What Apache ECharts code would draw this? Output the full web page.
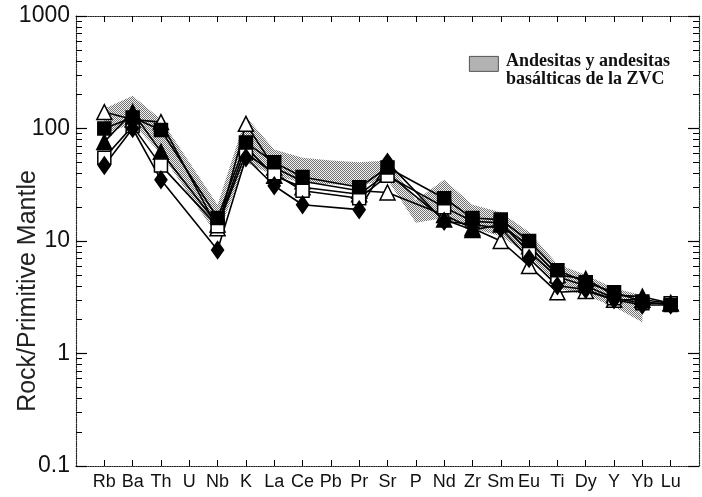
<!DOCTYPE html>
<html>
<head>
<meta charset="utf-8">
<script src="https://cdn.jsdelivr.net/npm/echarts@6/dist/echarts.min.js"></script>
<style>
  html, body { margin: 0; padding: 0; background: #fff; }
  #chart { width: 702px; height: 497px; }
</style>
</head>
<body>
<div id="chart"></div>
<script>
// elementos normalizados al manto primitivo
const elements = ['Rb', 'Ba', 'Th', 'U', 'Nb', 'K', 'La', 'Ce', 'Pb', 'Pr', 'Sr', 'P', 'Nd', 'Zr', 'Sm', 'Eu', 'Ti', 'Dy', 'Y', 'Yb', 'Lu']

// muestras (null = sin dato, la línea salta el elemento)
const openTri  = [140, 120, 114, null, 13,   110, 45, 34, null, 28, 27, null, 17,   13,   10,   6,  3.5, 3.6, 3.0, 3.0, 2.8]
const fullTri  = [76,  140, 62,  null, 14,   68,  38, 30, null, 26, 40, null, 15.5, 12.5, 14,   9,  5.0, 4.6, 3.3, 3.2, 2.8]
const fullSq   = [100, 125, 97,  null, 16,   75,  50, 37, null, 30, 45, null, 24,   16,   15.5, 10, 5.5, 4.3, 3.5, 2.9, 2.7]
const openSq   = [55,  105, 47,  null, 13.5, 60,  40, 28, null, 24, 38, null, 20,   15,   14.5, 8,  4.8, 4.0, 3.1, 2.8, 2.8]
const diamonds = [47,  100, 35,  null, 8.3,  55,  31, 21, null, 19, 50, null, 15,   14,   13,   7,  4.0, 3.7, 3.0, 2.7, 2.7]

// campo de andesitas y andesitas basálticas de la ZVC
const bandUpper = [150, 195, 120, null, 21, 127, 65, 55, 52, 50, 52, 23,   35, 21, 18, 12,  6.2, 5.0, 3.8, 3.3, null]
const bandLower = [90,  110, 60,  null, 11, 50,  38, 33, 32, 31, 35, 14.5, 16, 13, 11, 7.5, 3.8, 3.3, 2.6, 1.9, null]

// marcas menores (2..9 de cada década), en escala log10
const minorLog = []
for (let e = -1; e < 3; e++) {
  for (let k = 2; k <= 9; k++) minorLog.push(e + Math.log10(k))
}
const catIdx = elements.map((e, i) => i)

// trama gris punteada
const pat = document.createElement('canvas')
pat.width = 2
pat.height = 2
const pctx = pat.getContext('2d')
pctx.fillStyle = '#f2f2f2'
pctx.fillRect(0, 0, 2, 2)
pctx.fillStyle = '#727272'
pctx.fillRect(0, 0, 1, 1)
pctx.fillRect(1, 1, 1, 1)
const patternFill = { type: 'pattern', image: pat, repeat: 'repeat' }

const chart = echarts.init(document.getElementById('chart'))

const frameLine = { show: true, onZero: false, lineStyle: { color: '#222', width: 1.2, type: 'dotted' } }
const fontSans = 'Liberation Sans'

const xBase = {
  type: 'value',
  min: -1,
  max: 21,
  splitLine: { show: false },
  axisLine: frameLine
}
const yBase = {
  type: 'log',
  logBase: 10,
  min: 0.1,
  max: 1000,
  splitLine: { show: false },
  axisLine: frameLine
}
const yMinor = (pos) => ({
  type: 'value',
  position: pos,
  min: -1,
  max: 3,
  splitLine: { show: false },
  axisLine: { show: false, onZero: false },
  axisTick: { show: true, inside: true, length: 6, customValues: minorLog, lineStyle: { color: '#000' } },
  axisLabel: { show: false }
})

const mkLine = (name, data, symbol, size, filled) => ({
  name,
  type: 'line',
  data: data.map((v, i) => [i, v]),
  connectNulls: true,
  symbol,
  symbolSize: size,
  lineStyle: { color: '#000', width: 1.6 },
  itemStyle: { color: filled ? '#000' : '#fff', borderColor: '#000', borderWidth: 1.5 },
  emphasis: { disabled: true },
  z: 3
})

const option = {
  animation: false,
  grid: { left: 76, right: 3, top: 16, bottom: 31 },
  xAxis: [
    Object.assign({}, xBase, {
      position: 'bottom',
      axisTick: { show: true, inside: true, length: 6, customValues: catIdx, lineStyle: { color: '#000' } },
      axisLabel: {
        customValues: catIdx,
        formatter: (v) => elements[Math.round(v)] || '',
        color: '#111',
        fontFamily: fontSans,
        fontSize: 18,
        margin: 7
      }
    }),
    Object.assign({}, xBase, {
      position: 'top',
      axisTick: { show: true, inside: true, length: 6, customValues: catIdx, lineStyle: { color: '#000' } },
      axisLabel: { show: false }
    })
  ],
  yAxis: [
    Object.assign({}, yBase, {
      position: 'left',
      axisTick: { show: true, inside: true, length: 11, lineStyle: { color: '#000', width: 1.2 } },
      axisLabel: {
        formatter: (v) => String(v),
        color: '#111',
        fontFamily: fontSans,
        fontSize: 23,
        margin: 6
      }
    }),
    Object.assign({}, yBase, {
      position: 'right',
      axisTick: { show: true, inside: true, length: 11, lineStyle: { color: '#000', width: 1.2 } },
      axisLabel: { show: false }
    }),
    yMinor('left'),
    yMinor('right')
  ],
  series: [
    {
      name: 'ZVC',
      type: 'custom',
      data: bandUpper.map((v, i) => [i, v]),
      z: 1,
      silent: true,
      renderItem: (params, api) => {
        if (params.dataIndex !== 0) return
        const top = []
        const bottom = []
        bandUpper.forEach((v, i) => {
          if (v == null) return
          top.push(api.coord([i, v]))
          bottom.unshift(api.coord([i, bandLower[i]]))
        })
        return {
          type: 'polygon',
          shape: { points: top.concat(bottom) },
          style: { fill: patternFill, stroke: null }
        }
      }
    },
    mkLine('openTri', openTri, 'triangle', 15, false),
    mkLine('fullTri', fullTri, 'triangle', 15, true),
    mkLine('openSq', openSq, 'rect', 13, false),
    mkLine('fullSq', fullSq, 'rect', 13, true),
    mkLine('diamonds', diamonds, 'diamond', [12, 17], true)
  ],
  graphic: [
    {
      type: 'text',
      x: 28,
      y: 291,
      rotation: Math.PI / 2,
      style: {
        text: 'Rock/Primitive Mantle',
        font: '25px "Liberation Sans"',
        fill: '#222',
        align: 'center',
        verticalAlign: 'middle'
      }
    },
    {
      type: 'rect',
      left: 469,
      top: 56,
      shape: { width: 29, height: 15 },
      style: { fill: patternFill, stroke: '#333', lineWidth: 0.8 },
      z: 10
    },
    {
      type: 'text',
      left: 506,
      top: 52,
      style: {
        text: 'Andesitas y andesitas\nbasálticas de la ZVC',
        font: 'bold 18px "Liberation Serif"',
        lineHeight: 18,
        fill: '#111'
      },
      z: 10
    }
  ]
}

chart.setOption(option)

window.addEventListener('resize', () => {
  chart.resize()
})
</script>
</body>
</html>
